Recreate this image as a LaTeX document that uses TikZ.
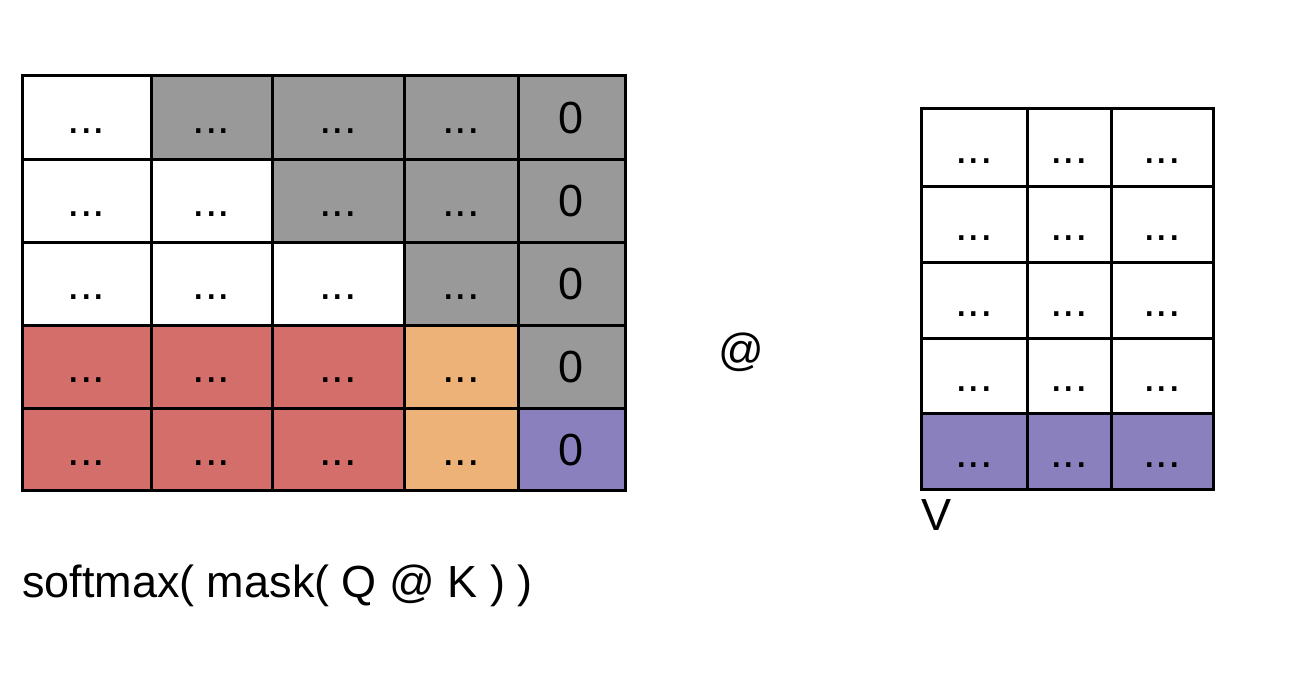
\documentclass[tikz,border=0pt]{standalone}
\usepackage{fontspec}
\setmainfont{Liberation Sans}
\definecolor{cgray}{HTML}{999999}
\definecolor{cred}{HTML}{D46E6A}
\definecolor{corange}{HTML}{EDB278}
\definecolor{cpurple}{HTML}{8A80BE}
\tikzset{
  cell/.style={draw=black, line width=3pt, inner sep=0pt, outer sep=0pt,
    text height=32pt, text depth=0pt, font=\fontsize{45}{50}\selectfont},
  lbl/.style={inner sep=0pt, outer sep=0pt, font=\fontsize{45}{50}\selectfont}
}
\begin{document}
\begin{tikzpicture}[x=1pt,y=-1pt]
\useasboundingbox[fill=white] (0,0) rectangle (1292,682);
% left matrix
\def\lcx{{86.5,211.5,338,461,571.5}}
\def\lw{{129,121,132,114,107}}
\def\lcy{{117.5,200.5,283.5,366.5,449}}
\def\lh{{83,83,83,83,82}}
\foreach \r/\cells in {0/{white,cgray,cgray,cgray,cgray},
                       1/{white,white,cgray,cgray,cgray},
                       2/{white,white,white,cgray,cgray},
                       3/{cred,cred,cred,corange,cgray},
                       4/{cred,cred,cred,corange,cpurple}}{
  \foreach \col [count=\c from 0] in \cells {
    \pgfmathsetmacro\cx{\lcx[\c]}
    \pgfmathsetmacro\cy{\lcy[\r]}
    \pgfmathsetmacro\cw{\lw[\c]}
    \pgfmathsetmacro\ch{\lh[\r]}
    \ifnum\c=4
      \node[cell, fill=\col, minimum width=\cw, minimum height=\ch] (L\r\c) at (\cx,\cy) {0};
    \else
      \node[cell, fill=\col, minimum width=\cw, minimum height=\ch] (L\r\c) at (\cx,\cy) {...};
    \fi
  }
}
% right matrix
\def\rcx{{974,1069,1162}}
\def\rw{{106,84,102}}
\def\rcy{{147.5,224,300,375.5,451}}
\def\rh{{77,76,76,75,76}}
\foreach \r/\col in {0/white,1/white,2/white,3/white,4/cpurple}{
  \foreach \c in {0,1,2}{
    \pgfmathsetmacro\cx{\rcx[\c]}
    \pgfmathsetmacro\cy{\rcy[\r]}
    \pgfmathsetmacro\cw{\rw[\c]}
    \pgfmathsetmacro\ch{\rh[\r]}
    \node[cell, fill=\col, minimum width=\cw, minimum height=\ch] (R\r\c) at (\cx,\cy) {...};
  }
}
\node[lbl, anchor=base west] (formula) at (22,597) {softmax( mask( Q @ K ) )};
\node[lbl, anchor=base west] (vlabel) at (921,530) {V};
\node[lbl] (at) at (741,352) {@};
\end{tikzpicture}
\end{document}
